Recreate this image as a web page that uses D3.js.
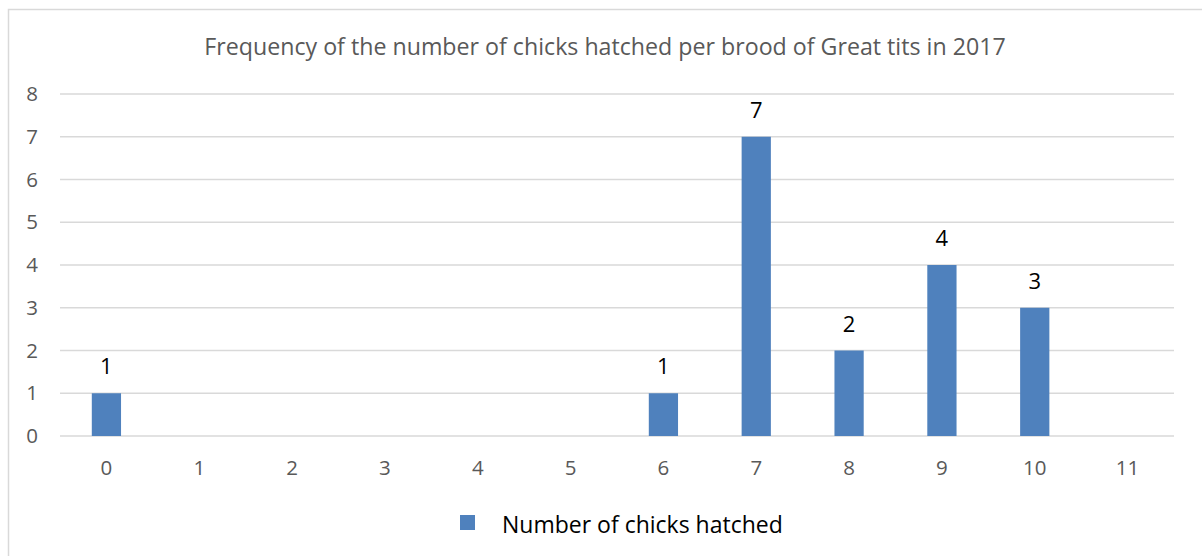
<!DOCTYPE html>
<html>
<head>
<meta charset="utf-8">
<script src="https://cdn.jsdelivr.net/npm/d3@7"></script>
<style>
  body { margin: 0; background: #fff; }
  svg { display: block; font-family: "Open Sans", sans-serif; }
</style>
</head>
<body>
<div id="chart"></div>
<script>
var w = 1202,
	h = 556;

// Data
var categories = ["0","1","2","3","4","5","6","7","8","9","10","11"];
var counts = [1, null, null, null, null, null, 1, 7, 2, 4, 3, null];
var yTicks = [0, 1, 2, 3, 4, 5, 6, 7, 8];
var seriesName = "Number of chicks hatched";
var title = "Frequency of the number of chicks hatched per brood of Great tits in 2017";

var margin = {left: 60, right: 28, top: 94, bottom: 120};

var svg = d3.select("#chart")
	.append("svg")
	.attr("width", w)
	.attr("height", h);

// outer chart border (runs off the right/bottom edge)
svg.append("rect")
	.attr("x", 8.5)
	.attr("y", 9.5)
	.attr("width", 1300)
	.attr("height", 700)
	.attr("fill", "#fff")
	.attr("stroke", "#d9d9d9")
	.attr("stroke-width", 1.5);

var x = d3.scaleBand()
	.domain(categories)
	.range([margin.left, w - margin.right])
	.paddingInner(0.685)
	.paddingOuter(0.3425);

var y = d3.scaleLinear()
	.domain([0, 8])
	.range([h - margin.bottom, margin.top]);

// gridlines
svg.append("g")
	.selectAll("line")
	.data(yTicks)
	.enter()
	.append("line")
	.attr("x1", margin.left)
	.attr("x2", w - margin.right)
	.attr("y1", function(d){ return y(d); })
	.attr("y2", function(d){ return y(d); })
	.attr("stroke", "#d9d9d9")
	.attr("stroke-width", 1.5);

// y axis labels
var yAxis = svg.append("g")
	.attr("transform", "translate(38,0)")
	.call(d3.axisLeft(y).tickValues(yTicks).tickSize(0).tickPadding(0).tickFormat(d3.format("d")));
yAxis.select(".domain").remove();
yAxis.selectAll("text")
	.attr("font-family", "Open Sans, sans-serif")
	.attr("font-size", "20.5px")
	.attr("fill", "#595959");

// x axis labels
var xAxis = svg.append("g")
	.attr("transform", "translate(0," + y(0) + ")")
	.call(d3.axisBottom(x).tickSize(0).tickPadding(24));
xAxis.select(".domain").remove();
xAxis.selectAll("text")
	.attr("font-family", "Open Sans, sans-serif")
	.attr("font-size", "20.5px")
	.attr("fill", "#595959");

var valid = categories.map(function(c, i){ return {cat: c, v: counts[i]}; })
	.filter(function(d){ return d.v != null; });

// bars
svg.append("g")
	.selectAll("rect")
	.data(valid)
	.enter()
	.append("rect")
	.attr("x", function(d){ return x(d.cat); })
	.attr("y", function(d){ return y(d.v); })
	.attr("width", x.bandwidth())
	.attr("height", function(d){ return y(0) - y(d.v); })
	.attr("fill", "#4f81bd");

// data labels
svg.append("g")
	.selectAll("text")
	.data(valid)
	.enter()
	.append("text")
	.attr("x", function(d){ return x(d.cat) + x.bandwidth() / 2; })
	.attr("y", function(d){ return y(d.v) - 19; })
	.attr("text-anchor", "middle")
	.attr("font-size", "22px")
	.attr("fill", "#000")
	.text(function(d){ return d.v; });

// title
svg.append("text")
	.attr("x", 605)
	.attr("y", 55)
	.attr("text-anchor", "middle")
	.attr("font-size", "23.2px")
	.attr("fill", "#595959")
	.text(title);

// legend
var legend = svg.append("g")
	.attr("transform", "translate(460,515)");
legend.append("rect")
	.attr("width", 15)
	.attr("height", 15)
	.attr("fill", "#4f81bd");
legend.append("text")
	.attr("x", 42)
	.attr("y", 18)
	.attr("font-size", "23px")
	.attr("fill", "#000")
	.text(seriesName);
</script>
</body>
</html>
